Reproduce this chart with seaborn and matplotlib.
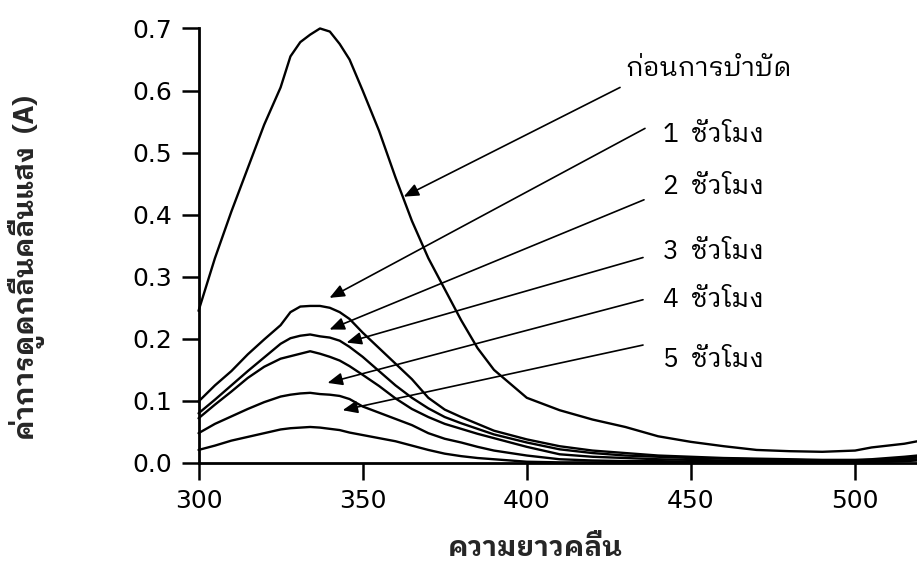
import matplotlib
matplotlib.use("Agg")
import matplotlib.pyplot as plt
from matplotlib import font_manager
from matplotlib.ft2font import FT2Font
import matplotlib.patheffects as pe
import numpy as np
import pandas as pd
import seaborn as sns

# ---------------- data ----------------
wavelength = [300, 305, 310, 315, 320, 325, 328, 331, 334, 337, 340, 343, 346,
              350, 355, 360, 365, 370, 375, 380, 385, 390, 400, 410, 420, 430,
              440, 450, 460, 470, 480, 490, 500, 505, 510, 515, 519]

before = [0.245, 0.330, 0.405, 0.475, 0.545, 0.605, 0.655, 0.678, 0.690, 0.700,
          0.695, 0.675, 0.650, 0.600, 0.535, 0.460, 0.390, 0.330, 0.280, 0.230,
          0.185, 0.150, 0.105, 0.085, 0.070, 0.058, 0.043, 0.034, 0.027, 0.021,
          0.019, 0.018, 0.020, 0.025, 0.028, 0.031, 0.035]
hour1 = [0.099, 0.125, 0.148, 0.175, 0.199, 0.222, 0.243, 0.252, 0.253, 0.253,
         0.250, 0.243, 0.232, 0.210, 0.185, 0.160, 0.135, 0.105, 0.086, 0.074,
         0.063, 0.052, 0.038, 0.027, 0.020, 0.016, 0.012, 0.010, 0.008, 0.007,
         0.006, 0.005, 0.005, 0.006, 0.008, 0.010, 0.012]
hour2 = [0.080, 0.102, 0.125, 0.148, 0.170, 0.192, 0.201, 0.205, 0.207, 0.204,
         0.202, 0.197, 0.187, 0.171, 0.148, 0.125, 0.105, 0.088, 0.074, 0.064,
         0.055, 0.046, 0.033, 0.022, 0.016, 0.012, 0.010, 0.008, 0.007, 0.006,
         0.005, 0.004, 0.004, 0.005, 0.006, 0.008, 0.010]
hour3 = [0.072, 0.094, 0.115, 0.137, 0.155, 0.168, 0.172, 0.176, 0.180, 0.176,
         0.171, 0.165, 0.156, 0.142, 0.124, 0.104, 0.087, 0.074, 0.063, 0.055,
         0.047, 0.040, 0.026, 0.014, 0.010, 0.008, 0.006, 0.005, 0.004, 0.004,
         0.003, 0.003, 0.003, 0.004, 0.005, 0.007, 0.009]
hour4 = [0.048, 0.063, 0.075, 0.087, 0.098, 0.107, 0.110, 0.112, 0.113, 0.111,
         0.110, 0.108, 0.103, 0.091, 0.081, 0.071, 0.061, 0.048, 0.039, 0.033,
         0.026, 0.020, 0.012, 0.006, 0.004, 0.003, 0.003, 0.002, 0.002, 0.002,
         0.002, 0.002, 0.002, 0.003, 0.004, 0.005, 0.006]
hour5 = [0.021, 0.028, 0.036, 0.042, 0.048, 0.054, 0.056, 0.057, 0.058, 0.057,
         0.055, 0.053, 0.049, 0.045, 0.040, 0.035, 0.028, 0.021, 0.015, 0.011,
         0.008, 0.006, 0.002, 0.001, 0.001, 0.001, 0.001, 0.001, 0.001, 0.001,
         0.001, 0.001, 0.001, 0.002, 0.002, 0.003, 0.004]

series_names = ["ก่อนการบำบัด", "1  ชั่วโมง", "2  ชั่วโมง",
                "3  ชั่วโมง", "4  ชั่วโมง", "5  ชั่วโมง"]
series_values = [before, hour1, hour2, hour3, hour4, hour5]

# label anchor (wavelength, absorbance) and arrow target on each curve
label_pos = [(430.0, 0.636), (441.5, 0.529), (441.5, 0.445),
             (441.5, 0.340), (441.5, 0.263), (441.5, 0.166)]
arrow_tail = [(428.4, 0.605), (436.0, 0.539), (435.7, 0.424),
              (435.4, 0.331), (435.4, 0.263), (435.4, 0.190)]
arrow_head = [(362.5, 0.429), (339.9, 0.266), (339.9, 0.215),
              (345.1, 0.194), (339.3, 0.129), (343.9, 0.085)]

x_ticks = [300, 350, 400, 450, 500]
y_ticks = [0.0, 0.1, 0.2, 0.3, 0.4, 0.5, 0.6, 0.7]
x_label = "ความยาวคลื่น"
y_label = "ค่าการดูดกลืนคลื่นแสง  (A)"

# ---------------- fonts ----------------
def thai_fonts():
    found = {}
    for f in font_manager.fontManager.ttflist:
        try:
            cm = FT2Font(f.fname).get_charmap()
        except Exception:
            continue
        if 0x0E01 in cm and 0x0E33 in cm:
            w = f.weight if isinstance(f.weight, int) else 400
            found.setdefault(f.name, set()).add(w)
    return found

tf = thai_fonts()
names = list(tf.keys())

def pick(prefs, avoid=()):
    for p in prefs:
        for n in names:
            if p in n and not any(a in n for a in avoid):
                return n
    return names[0] if names else None

looped_thai = pick(["Looped", "Serif Thai", "Norasi", "Kinnari", "Sarabun", "Garuda",
                    "Noto Sans Thai", "Thai"])
looped_has_bold = looped_thai is not None and any(w >= 600 for w in tf.get(looped_thai, []))

fam_lbl = [looped_thai, "DejaVu Sans"] if looped_thai else ["DejaVu Sans"]

sns.set_style("ticks")
plt.rcParams["font.family"] = ["DejaVu Sans"]

# ---------------- figure ----------------
rows = []
for name, vals in zip(series_names, series_values):
    for w, v in zip(wavelength, vals):
        rows.append({"wavelength": w, "absorbance": v, "series": name})
df = pd.DataFrame(rows)

fig = plt.figure(figsize=(9.17, 5.68), dpi=100)
ax = fig.add_axes([0.2165, 0.1849, 0.784, 0.765])

sns.lineplot(data=df, x="wavelength", y="absorbance", hue="series",
             palette=["black"] * len(series_names), legend=False,
             linewidth=1.7, ax=ax, sort=False, estimator=None)
for ln in ax.lines:
    ln.set_clip_on(False)

ax.set_xlim(300, 519)
ax.set_ylim(0, 0.7)
ax.set_xticks(x_ticks)
ax.set_yticks(y_ticks)
ax.set_xticklabels([str(t) for t in x_ticks])
ax.set_yticklabels([f"{t:.1f}" for t in y_ticks])
ax.tick_params(axis="both", which="major", direction="out", length=12,
               width=1.8, labelsize=18, pad=7, color="black", labelcolor="black")
for s in ["top", "right"]:
    ax.spines[s].set_visible(False)
for s in ["left", "bottom"]:
    ax.spines[s].set_linewidth(2.0)
    ax.spines[s].set_color("black")

ax.set_xlabel("")
ax.set_ylabel("")
bold_fx = [] if looped_has_bold else [pe.withStroke(linewidth=0.9, foreground="black")]
fig.text(535 / 917, 1 - 549 / 568, x_label, family=fam_lbl, fontsize=20,
         fontweight="bold", ha="center", va="center", path_effects=bold_fx)
fig.text(27 / 917, 1 - 268 / 568, y_label, family=fam_lbl, fontsize=20,
         fontweight="bold", ha="center", va="center", rotation=90,
         path_effects=bold_fx)

for name, lp, tail, head in zip(series_names, label_pos, arrow_tail, arrow_head):
    ax.text(lp[0], lp[1], name, family=fam_lbl, fontsize=19, ha="left",
            va="center", color="black", clip_on=False)
    ax.annotate("", xy=head, xytext=tail,
                arrowprops=dict(arrowstyle="-|>,head_length=0.9,head_width=0.38",
                                color="black", lw=1.2, shrinkA=0, shrinkB=0))

fig.savefig("out.png", dpi=100, facecolor="white")
